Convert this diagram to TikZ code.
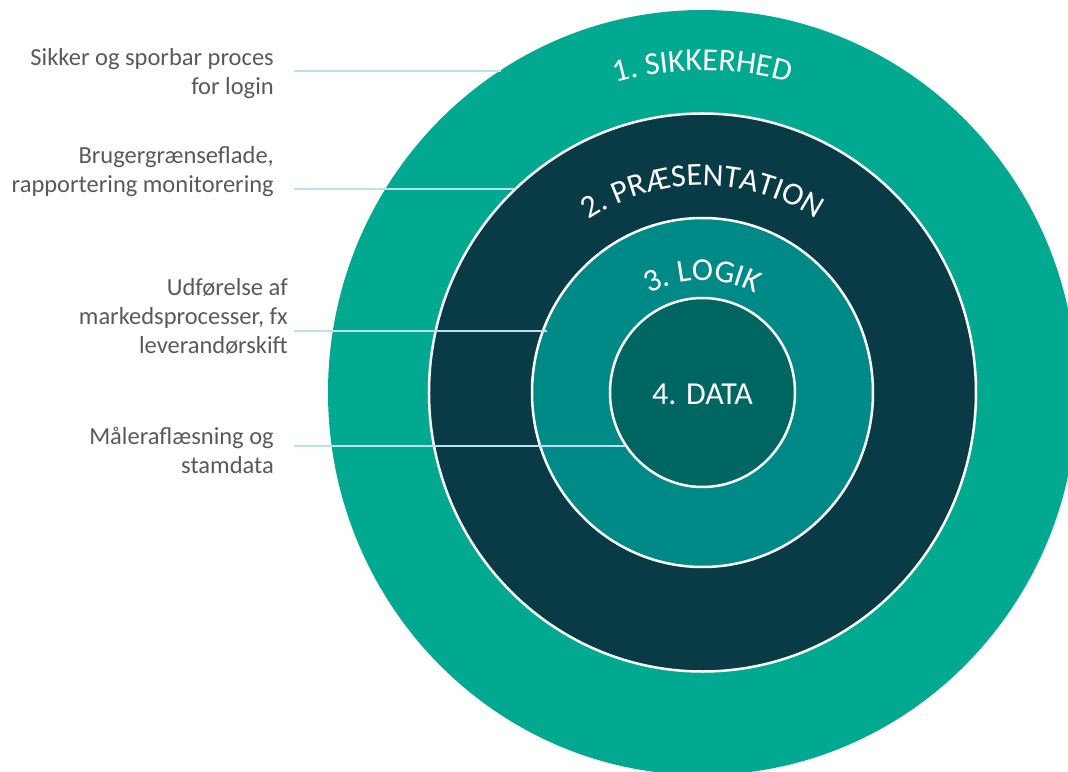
\documentclass[tikz,border=0pt]{standalone}
\usepackage{fontspec}
\setmainfont{Carlito}
\usetikzlibrary{decorations.text}
\definecolor{ringa}{RGB}{0,169,143}
\definecolor{ringb}{RGB}{8,59,69}
\definecolor{ringc}{RGB}{0,138,135}
\definecolor{ringd}{RGB}{0,102,98}
\definecolor{leadc}{RGB}{190,224,238}
\definecolor{labc}{RGB}{89,89,89}
\newcommand{\ringfont}{\fontsize{32}{38}\selectfont}
\newcommand{\labfont}{\fontsize{24.5}{29}\selectfont}
\begin{document}
\begin{tikzpicture}[x=1pt,y=1pt,
    ring/.style={draw=white,line width=2.5pt},
    lab/.style={anchor=east,align=right,inner sep=0pt,text=labc,font=\labfont},
    leader/.style={draw=leadc,line width=2pt},
    title/.style={decorate,decoration={text along path,text align=center,text color=white,text={|\ringfont|#1}}}]
        \useasboundingbox (-702.5,-378.5) rectangle (365.5,392.5);
        \clip (-702.5,-378.5) rectangle (365.5,392.5);
        \fill[ringa] (0,0) ellipse [x radius=374.5pt, y radius=382.5pt];
        \filldraw[ring,fill=ringb] (0,0) ellipse [x radius=273.5pt, y radius=279pt];
        \filldraw[ring,fill=ringc] (0,0) ellipse [x radius=170.5pt, y radius=174.5pt];
        \filldraw[ring,fill=ringd] (0,0) ellipse [x radius=92.5pt, y radius=94.5pt];
        \path[title={1. SIKKERHED}] (170:322pt) arc [start angle=170, end angle=10, radius=322pt];
        \path[title={2. PRÆSENTATION}] (170:207pt) arc [start angle=170, end angle=10, radius=207pt];
        \path[title={3. LOGIK}] (170:112pt) arc [start angle=170, end angle=10, radius=112pt];
        \node[text=white,font=\ringfont] (data) at (0,-1.5) {4. DATA};
        \node[lab] (sec) at (-428.5,318.5) {Sikker og sporbar proces\\for login};
        \node[lab] (pres) at (-428.5,220.5) {Brugergrænseflade,\\rapportering monitorering};
        \node[lab] (logic) at (-414.5,76.5) {Udførelse af\\markedsprocesser, fx\\leverandørskift};
        \node[lab] (meter) at (-428.5,-58) {Måleraflæsning og\\stamdata};
        \coordinate (sec-a) at (-408.5,321.8);
        \coordinate (sec-b) at (-201,321.8);
        \coordinate (pres-a) at (-408.5,203.5);
        \coordinate (pres-b) at (-186,203.5);
        \coordinate (logic-a) at (-408.5,61.8);
        \coordinate (logic-b) at (-155.5,61.8);
        \coordinate (meter-a) at (-408.5,-53.2);
        \coordinate (meter-b) at (-77.5,-53.2);
        \draw[leader] (sec-a) -- (sec-b);
        \draw[leader] (pres-a) -- (pres-b);
        \draw[leader] (logic-a) -- (logic-b);
        \draw[leader] (meter-a) -- (meter-b);
      \end{tikzpicture}
\end{document}
